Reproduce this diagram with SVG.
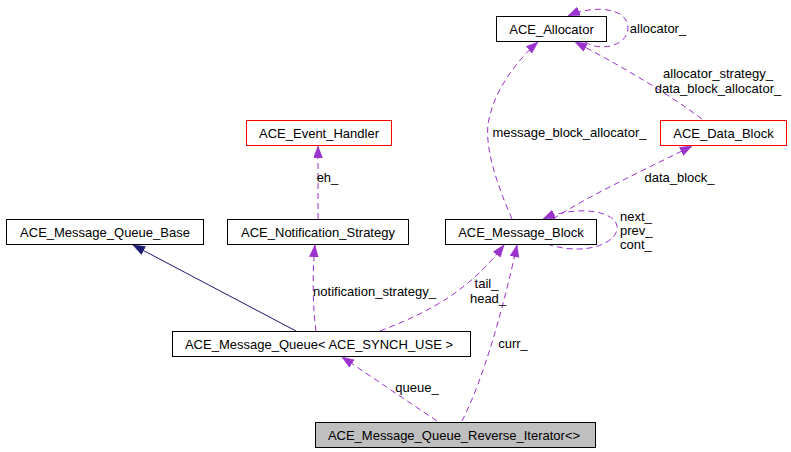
<svg xmlns="http://www.w3.org/2000/svg" width="791" height="452" viewBox="0 0 791 452">
<style>
  text { font-family: "Liberation Sans", Arial, sans-serif; font-size: 13px; fill: #000; }
  .node { text-anchor: middle; }
  .lbl { text-anchor: middle; }
  rect.box { fill: #fff; stroke: #000; stroke-width: 1; }
  rect.red { fill: #fff; stroke: #ff0000; stroke-width: 1; }
  rect.cur { fill: #bfbfbf; stroke: #000; stroke-width: 1; }
  .use { fill: none; stroke: #9a32cd; stroke-width: 1; stroke-dasharray: 6,4; marker-end: url(#ap); }
  .inh { fill: none; stroke: #191970; stroke-width: 1; marker-end: url(#an); }
</style>
<defs>
  <marker id="ap" markerUnits="userSpaceOnUse" markerWidth="13" markerHeight="10" refX="12" refY="4.5" orient="auto">
    <path d="M0,0 L12,4.5 L0,9 z" fill="#9a32cd" stroke="#9a32cd" stroke-width="0.5"/>
  </marker>
  <marker id="an" markerUnits="userSpaceOnUse" markerWidth="13" markerHeight="10" refX="12" refY="4.5" orient="auto">
    <path d="M0,0 L12,4.5 L0,9 z" fill="#191970" stroke="#191970" stroke-width="0.5"/>
  </marker>
</defs>
<rect width="791" height="452" fill="#fff"/>
<g id="edges">
  <path class="inh" d="M296,331 L133,245"/>
  <path class="use" d="M318,219 L318,146"/>
  <path class="use" d="M316,331 C313,310 312,275 315,245"/>
  <path class="use" d="M380,331 C430,312 470,290 504,245"/>
  <path class="use" d="M462,421 C483,380 503,310 517,245"/>
  <path class="use" d="M437,421 L342,357"/>
  <path class="use" d="M512,219 C495,180 482,140 490,115 C496,90 515,62 538,42"/>
  <path class="use" d="M702,119 C670,95 620,65 575,42"/>
  <path class="use" d="M553,219 C590,195 640,172 692,146"/>
  <path class="use" d="M547,244 C590,258 620,240 617,226 C614,210 575,205 543,219"/>
  <path class="use" d="M585,42 C600,52 628,46 628,28 C628,8 595,4 568,16"/>
  <text class="lbl" x="658" y="32.5">allocator_</text>
  <text class="lbl" x="718" y="77.5">allocator_strategy_</text>
  <text class="lbl" x="718" y="92.5">data_block_allocator_</text>
  <text class="lbl" x="569.5" y="136.5">message_block_allocator_</text>
  <text class="lbl" x="679.5" y="181.5">data_block_</text>
  <text x="620" y="220.5">next_</text>
  <text x="620" y="234.5">prev_</text>
  <text x="620" y="248.5">cont_</text>
  <text class="lbl" x="327.5" y="181.5">eh_</text>
  <text class="lbl" x="374.5" y="295.5">notification_strategy_</text>
  <text class="lbl" x="486.5" y="287.5">tail_</text>
  <text class="lbl" x="488" y="302.5">head_</text>
  <text class="lbl" x="513" y="347.5">curr_</text>
  <text class="lbl" x="417" y="391.5">queue_</text>
</g>
<g id="ACE_Allocator">
  <rect class="box" x="496.5" y="16.5" width="110" height="25"/>
  <text class="node" x="551.5" y="33.5">ACE_Allocator</text>
</g>
<g id="ACE_Data_Block">
  <rect class="red" x="660.5" y="120.5" width="126" height="25"/>
  <text class="node" x="723.5" y="137.5">ACE_Data_Block</text>
</g>
<g id="ACE_Event_Handler">
  <rect class="red" x="246.5" y="120.5" width="145" height="25"/>
  <text class="node" x="319" y="137.5">ACE_Event_Handler</text>
</g>
<g id="ACE_Message_Queue_Base">
  <rect class="box" x="6.5" y="219.5" width="197" height="25"/>
  <text class="node" x="105" y="236.5">ACE_Message_Queue_Base</text>
</g>
<g id="ACE_Notification_Strategy">
  <rect class="box" x="227.5" y="219.5" width="181" height="25"/>
  <text class="node" x="318" y="236.5">ACE_Notification_Strategy</text>
</g>
<g id="ACE_Message_Block">
  <rect class="box" x="445.5" y="219.5" width="151" height="25"/>
  <text class="node" x="521" y="236.5">ACE_Message_Block</text>
</g>
<g id="ACE_Message_Queue">
  <rect class="box" x="172.5" y="331.5" width="298" height="25"/>
  <text class="node" x="319" y="348.5">ACE_Message_Queue&lt; ACE_SYNCH_USE &gt;</text>
</g>
<g id="ACE_Message_Queue_Reverse_Iterator">
  <rect class="cur" x="315.5" y="422.5" width="280" height="25"/>
  <text class="node" x="454" y="439.5">ACE_Message_Queue_Reverse_Iterator&lt;&gt;</text>
</g>
</svg>
